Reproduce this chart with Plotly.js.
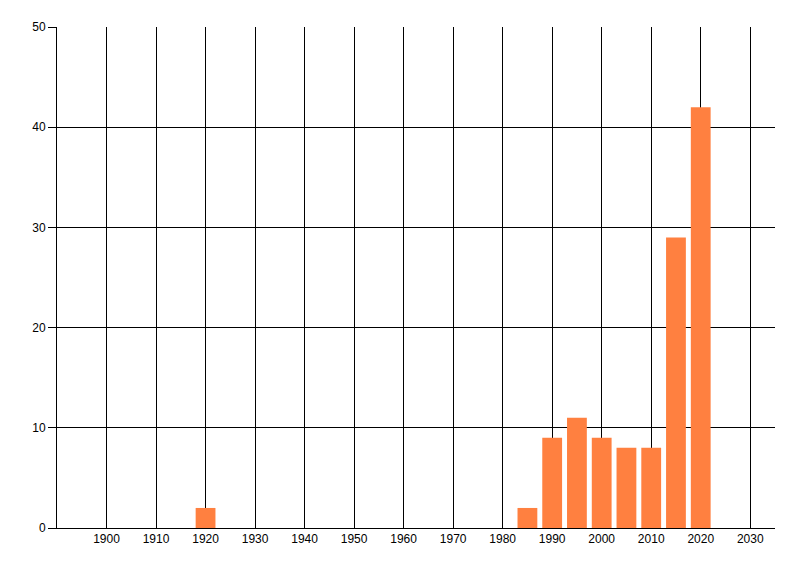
<!DOCTYPE html>
<html>
<head>
<meta charset="utf-8">
<script src="https://cdn.plot.ly/plotly-3.0.1.min.js"></script>
<style>
  html, body { margin: 0; padding: 0; background: #fff; }
  #chart { width: 800px; height: 576px; }
</style>
</head>
<body>
<div id="chart"></div>
<script>
var years = [1920, 1985, 1990, 1995, 2000, 2005, 2010, 2015, 2020];
var counts = [2, 2, 9, 11, 9, 8, 8, 29, 42];
var xTicks = [1900, 1910, 1920, 1930, 1940, 1950, 1960, 1970, 1980, 1990, 2000, 2010, 2020, 2030];
var yTicks = [0, 10, 20, 30, 40, 50];

var trace1 = {
  x: years,
  y: counts,
  type: 'bar',
  width: 4,
  marker: { color: 'rgb(255,128,64)', line: { width: 0 } },
  hoverinfo: 'x+y'
};

var layout = {
  width: 800,
  height: 576,
  margin: { l: 57, r: 25, t: 27, b: 48 },
  paper_bgcolor: '#fff',
  plot_bgcolor: '#fff',
  showlegend: false,
  font: { family: 'Liberation Sans, DejaVu Sans, sans-serif', size: 12, color: '#000' },
  xaxis: {
    range: [1890, 2035],
    tickmode: 'array',
    tickvals: xTicks,
    ticktext: xTicks.map(String),
    showgrid: true,
    gridcolor: '#000',
    gridwidth: 1,
    zeroline: false,
    showline: true,
    linecolor: '#000',
    linewidth: 1,
    ticks: '',
    ticklen: 0,
    tickfont: { size: 12, color: '#000' }
  },
  yaxis: {
    range: [0, 50],
    tickmode: 'array',
    tickvals: yTicks,
    ticktext: yTicks.map(String),
    showgrid: true,
    gridcolor: '#000',
    gridwidth: 1,
    zeroline: false,
    showline: true,
    linecolor: '#000',
    linewidth: 1,
    ticks: 'outside',
    ticklen: 8,
    tickcolor: '#000',
    tickwidth: 1,
    tickfont: { size: 12, color: '#000' }
  }
};

Plotly.newPlot('chart', [trace1], layout, { displayModeBar: false, staticPlot: true });
</script>
</body>
</html>
